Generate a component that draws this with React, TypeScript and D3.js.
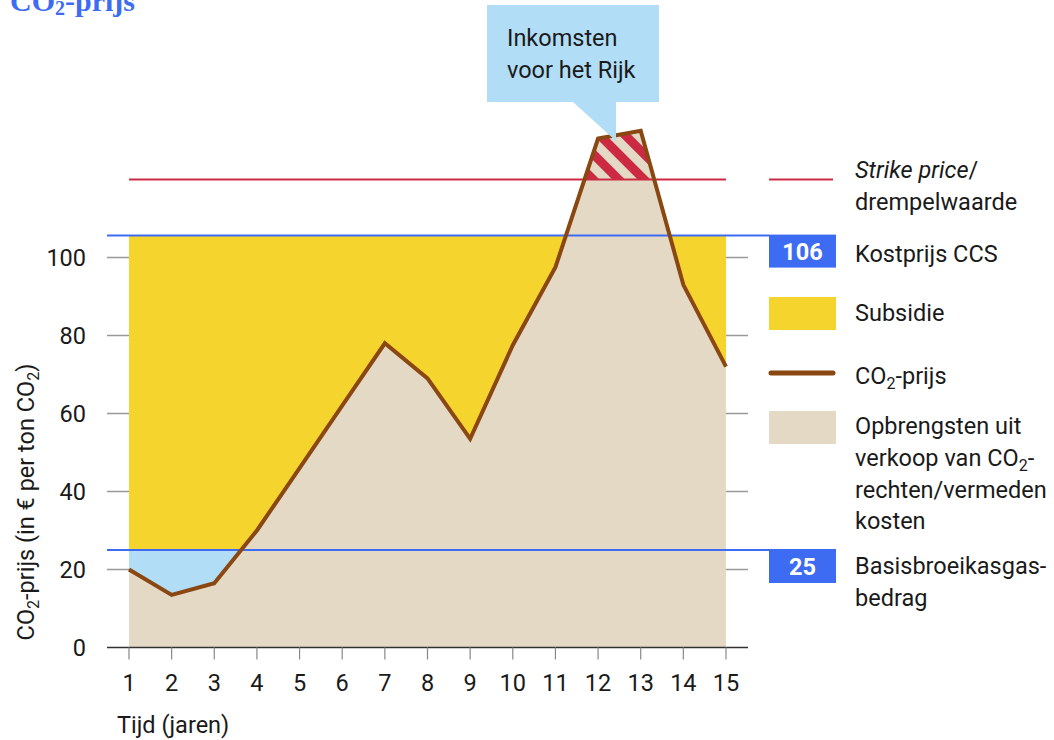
import React from 'react';
import * as d3 from 'd3';

const years = [1, 2, 3, 4, 5, 6, 7, 8, 9, 10, 11, 12, 13, 14, 15];
const co2Price = [20, 13.5, 16.5, 30, 46, 62, 78, 69, 53.5, 77.5, 97.5, 130.5, 132.5, 93, 72];
const strikePrice = 120;
const costPrice = 106;
const baseAmount = 25;
const yTicks = [0, 20, 40, 60, 80, 100];

const FONT = 'Roboto, "Noto Sans", sans-serif';
const BLUE = '#3d6cf2';
const RED = '#cc2a43';
const BROWN = '#8b4711';
const YELLOW = '#f6d42e';
const TAN = '#e4d9c5';
const LIGHTBLUE = '#b2ddf6';
const TXT = '#1a1a1a';
const FS = 23.5;

const Sub = ({ t, rest }: { t: string; rest: string }) => (
  <>
    {t}
    <tspan dy={5} fontSize={16}>2</tspan>
    <tspan dy={-5}>{rest}</tspan>
  </>
);

const App = () => {
  const x = d3.scaleLinear().domain([1, 15]).range([129, 726]);
  const y = d3.scaleLinear().domain([0, 100]).range([647.5, 257.5]);
  const data = years.map((yr, i) => ({ yr, v: co2Price[i] }));

  const below = d3.area<any>().x(d => x(d.yr)).y0(y(0)).y1(d => y(d.v))(data) as string;
  const above = d3.area<any>().x(d => x(d.yr)).y0(0).y1(d => y(d.v))(data) as string;
  const line = d3.line<any>().x(d => x(d.yr)).y(d => y(d.v))(data) as string;

  const x0 = x(years[0]);
  const x1 = x(years[years.length - 1]);
  const gridL = 107;
  const gridR = 748;
  const legX = 769;
  const legT = 855;
  const yCost = y(costPrice) + 1.5;
  const yBase = y(baseAmount);

  return (
    <svg width={1054} height={740} style={{ position: 'absolute', left: 0, top: 0 }} fontFamily={FONT}>
      <defs>
        <clipPath id="above"><path d={above} /></clipPath>
        <clipPath id="below"><path d={below} /></clipPath>
        <pattern id="hatch" patternUnits="userSpaceOnUse" width={18} height={18} patternTransform="rotate(-45)">
          <rect width={18} height={18} fill={TAN} />
          <rect width={9} height={18} fill={RED} />
        </pattern>
      </defs>

      {/* title, cut off at top */}
      <text x={10} y={11} fontFamily='"Liberation Serif", serif' fontWeight="bold" fontSize={30} fill={BLUE}>
        CO<tspan dy={4} fontSize={20}>2</tspan><tspan dy={-4}>-prijs</tspan>
      </text>

      {/* gridlines */}
      {yTicks.filter(t => t > 0).map(t => (
        <line key={t} x1={gridL} x2={gridR} y1={y(t)} y2={y(t)} stroke="#999" strokeWidth={1.5} />
      ))}

      {/* areas */}
      <path d={below} fill={TAN} />
      <rect x={x0} width={x1 - x0} y={yCost} height={yBase - yCost} fill={YELLOW} clipPath="url(#above)" />
      <rect x={x0} width={x1 - x0} y={yBase} height={y(0) - yBase} fill={LIGHTBLUE} clipPath="url(#above)" />
      <rect x={x0} width={x1 - x0} y={0} height={y(strikePrice)} fill="url(#hatch)" clipPath="url(#below)" />

      {/* reference lines */}
      <line x1={x0} x2={x1} y1={y(strikePrice)} y2={y(strikePrice)} stroke={RED} strokeWidth={2} />
      <line x1={gridL} x2={legX} y1={yCost} y2={yCost} stroke={BLUE} strokeWidth={2} />
      <line x1={gridL} x2={legX} y1={yBase} y2={yBase} stroke={BLUE} strokeWidth={2} />

      {/* price line */}
      <path d={line} fill="none" stroke={BROWN} strokeWidth={4} />

      {/* callout */}
      <path d="M487,5 H659 V102 H616 V141 L573,102 H487 Z" fill={LIGHTBLUE} />
      <text x={507} y={46} fontSize={FS} fill={TXT}>Inkomsten</text>
      <text x={507} y={78} fontSize={FS} fill={TXT}>voor het Rijk</text>

      {/* x axis */}
      <line x1={gridL} x2={gridR} y1={y(0)} y2={y(0)} stroke="#333" strokeWidth={1.5} />
      {years.map(yr => (
        <g key={yr}>
          <line x1={x(yr)} x2={x(yr)} y1={y(0)} y2={y(0) + 12} stroke="#888" strokeWidth={1.2} />
          <text x={x(yr)} y={691} textAnchor="middle" fontSize={FS} fill={TXT}>{yr}</text>
        </g>
      ))}
      <text x={117} y={733} fontSize={FS} fill={TXT}>Tijd (jaren)</text>

      {/* y axis */}
      {yTicks.map(t => (
        <text key={t} x={86} y={y(t) + 8.5} textAnchor="end" fontSize={FS} fill={TXT}>{t}</text>
      ))}
      <text transform="translate(34,502) rotate(-90)" textAnchor="middle" fontSize={FS} fill={TXT}>
        <Sub t="CO" rest="-prijs (in € per ton CO" />
        <tspan dy={5} fontSize={16}>2</tspan>
        <tspan dy={-5}>)</tspan>
      </text>

      {/* legend */}
      <line x1={legX} x2={833} y1={y(strikePrice)} y2={y(strikePrice)} stroke={RED} strokeWidth={2} />
      <text x={legT} y={178} fontSize={FS} fill={TXT}><tspan fontStyle="italic">Strike price</tspan>/</text>
      <text x={legT} y={210} fontSize={FS} fill={TXT}>drempelwaarde</text>

      <rect x={legX} y={yCost - 1} width={67} height={33} fill={BLUE} />
      <text x={legX + 33.5} y={yCost + 24} textAnchor="middle" fontSize={FS} fontWeight="bold" fill="#fff">{costPrice}</text>
      <text x={legT} y={262} fontSize={FS} fill={TXT}>Kostprijs CCS</text>

      <rect x={legX} y={297} width={67} height={33} fill={YELLOW} />
      <text x={legT} y={321} fontSize={FS} fill={TXT}>Subsidie</text>

      <line x1={legX + 2} x2={833} y1={373} y2={373} stroke={BROWN} strokeWidth={5} strokeLinecap="round" />
      <text x={legT} y={384} fontSize={FS} fill={TXT}><Sub t="CO" rest="-prijs" /></text>

      <rect x={legX} y={411} width={67} height={33} fill={TAN} />
      <text x={legT} y={434} fontSize={FS} fill={TXT}>Opbrengsten uit</text>
      <text x={legT} y={466} fontSize={FS} fill={TXT}><Sub t="verkoop van CO" rest="-" /></text>
      <text x={legT} y={498} fontSize={FS} fill={TXT}>rechten/vermeden</text>
      <text x={legT} y={529} fontSize={FS} fill={TXT}>kosten</text>

      <rect x={legX} y={yBase - 1} width={67} height={34} fill={BLUE} />
      <text x={legX + 33.5} y={yBase + 25} textAnchor="middle" fontSize={FS} fontWeight="bold" fill="#fff">{baseAmount}</text>
      <text x={legT} y={574} fontSize={FS} fill={TXT}>Basisbroeikasgas-</text>
      <text x={legT} y={606} fontSize={FS} fill={TXT}>bedrag</text>
    </svg>
  );
};

export default App;
